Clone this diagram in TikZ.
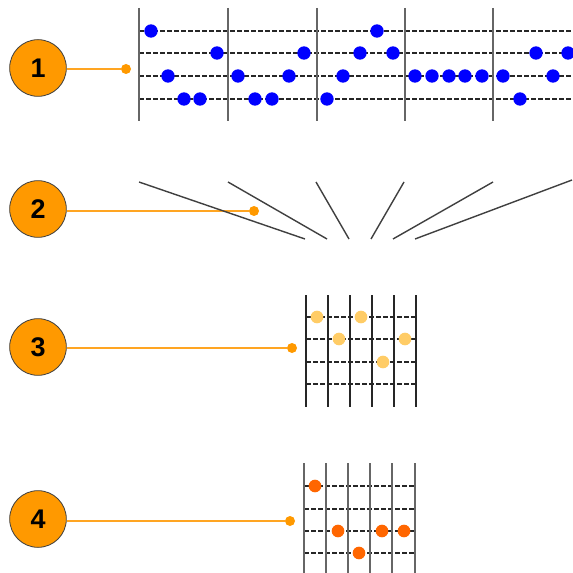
\documentclass[tikz,border=0pt]{standalone}
\usepackage{fontspec}
\setmainfont{Liberation Sans}
\definecolor{stepfill}{HTML}{FF9900}
\definecolor{pinorange}{HTML}{FFA522}
\definecolor{lightnote}{HTML}{FFCC66}
\definecolor{darknote}{HTML}{FF6600}
\begin{document}
\begin{tikzpicture}[
    x=0.03cm, y=-0.03cm,
    step circle/.style={
        circle, draw=black!75, fill=stepfill, line width=0.7pt,
        minimum size=1.7cm, inner sep=0pt,
        font=\fontsize{23}{23}\selectfont\bfseries
    },
    pin dot/.style={circle, fill=stepfill, minimum size=0.3cm, inner sep=0pt},
    pin line/.style={draw=pinorange, line width=1.9pt},
    string line/.style={draw=black!85, line width=1.4pt,
        dash pattern=on 0.14cm off 0.07cm},
    bar line/.style={draw=black!60, line width=1.6pt},
    fan line/.style={draw=black!75, line width=1.2pt}
]
    \useasboundingbox (0,0) rectangle (573,573);

    % step numbers and their pointers
    \node[step circle] (num1) at (38,68) {1};
    \node[step circle] (num2) at (38,209) {2};
    \node[step circle] (num3) at (38,347) {3};
    \node[step circle] (num4) at (38,519) {4};

    \node[pin dot] (tip1) at (126,69) {};
    \node[pin dot] (tip2) at (254,211) {};
    \node[pin dot] (tip3) at (292,348) {};
    \node[pin dot] (tip4) at (290,521) {};

    \draw[pin line] (num1.east |- tip1) -- (tip1);
    \draw[pin line] (num2.east |- tip2) -- (tip2);
    \draw[pin line] (num3.east |- tip3) -- (tip3);
    \draw[pin line] (num4.east |- tip4) -- (tip4);

    % 1: the long passage
    \foreach \y in {31,53,76,99}
        \draw[string line] (139,\y) -- (573,\y);
    \foreach \x in {139,228,317,405,493}
        \draw[bar line] (\x,8) -- (\x,121);
    \foreach \x/\y in {151/31, 377/31,
                      217/53, 304/53, 360/53, 393/53, 536/53, 568/53,
                      168/76, 238/76, 289/76, 343/76, 415/76, 432/76,
                      449/76, 465/76, 482/76, 503/76, 553/76,
                      184/99, 200/99, 255/99, 272/99, 327/99, 520/99}
        \fill[blue] (\x,\y) circle[radius=0.2cm];

    % 2: folding the bars together
    \draw[fan line] (139,182) -- (305,239);
    \draw[fan line] (228,182) -- (327,239);
    \draw[fan line] (316,182) -- (349,239);
    \draw[fan line] (404,182) -- (371,239);
    \draw[fan line] (493,182) -- (393,239);
    \draw[fan line] (572,180) -- (415,239);

    % 3: the merged shape
    \foreach \y in {317,339,362,384}
        \draw[string line] (306,\y) -- (416,\y);
    \foreach \x in {306,328,350,372,394,416}
        \draw[draw=black!85, line width=1.4pt] (\x,295) -- (\x,407);
    \foreach \x/\y in {317/317, 361/317, 339/339, 405/339, 383/362}
        \fill[lightnote] (\x,\y) circle[radius=0.19cm];

    % 4: the final shape
    \foreach \y in {486,509,531,553}
        \draw[string line] (304,\y) -- (415,\y);
    \foreach \x in {304,326,348,370,392,415}
        \draw[bar line] (\x,463) -- (\x,573);
    \foreach \x/\y in {315/486, 338/531, 382/531, 404/531, 359/553}
        \fill[darknote] (\x,\y) circle[radius=0.19cm];

\end{tikzpicture}
\end{document}
